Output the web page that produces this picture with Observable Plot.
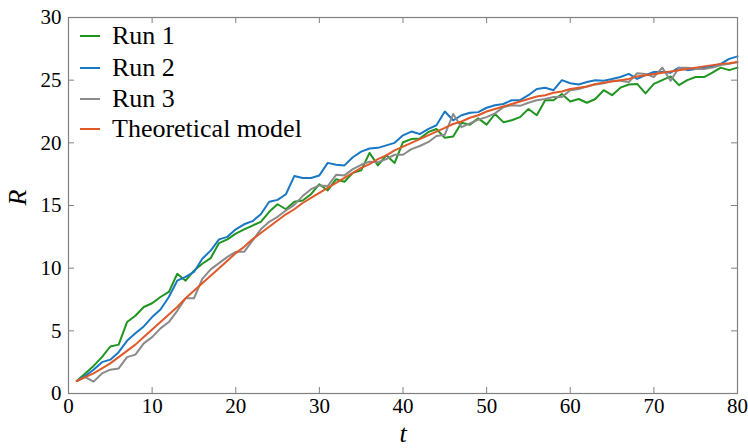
<!DOCTYPE html>
<html><head><meta charset="utf-8">
<script src="https://cdn.jsdelivr.net/npm/d3@7"></script>
<script src="https://cdn.jsdelivr.net/npm/@observablehq/plot@0.6"></script>
<style>
html,body{margin:0;padding:0;background:#fff;font-family:'Liberation Serif',Times,serif;}
#wrap{position:relative;width:748px;height:448px;font-family:'Liberation Serif',Times,serif;}
.legend{position:absolute;left:80px;top:0;font-size:26px;color:#000;font-family:'Liberation Serif',Times,serif;}
.row{position:absolute;left:0;height:30px;display:flex;align-items:center;white-space:nowrap;}
.sw{width:20px;height:0;border-top:2px solid;margin-right:12px;}
#wrap svg text{font-family:'Liberation Serif',Times,serif;}
</style></head><body>
<div id="wrap">
  <div class="legend" id="legend">
    <div class="row" style="top:21px"><span class="sw" style="border-top-color:#1f951f"></span><span>Run 1</span></div>
    <div class="row" style="top:53px"><span class="sw" style="border-top-color:#1a77c4"></span><span>Run 2</span></div>
    <div class="row" style="top:84px"><span class="sw" style="border-top-color:#8a8a8a"></span><span>Run 3</span></div>
    <div class="row" style="top:114px"><span class="sw" style="border-top-color:#e0592a"></span><span>Theoretical model</span></div>
  </div>
</div>
<script>
const seriesNames = ["Run 1", "Run 2", "Run 3", "Theoretical model"];
const seriesColors = ["#1f951f", "#1a77c4", "#8a8a8a", "#e0592a"];
const xTicks = [0, 10, 20, 30, 40, 50, 60, 70, 80];
const yTicks = [0, 5, 10, 15, 20, 25, 30];
const tValues = d3.range(1, 81);

const run1 = [1.0,1.6,2.2,2.9,3.75,3.9,5.7,6.2,6.9,7.2,
  7.7,8.1,9.55,9.0,9.8,10.35,10.8,12.0,12.3,12.75,
  13.1,13.4,13.7,14.5,15.1,14.7,15.3,15.4,15.9,16.7,
  16.2,17.1,16.9,17.6,17.8,19.2,18.2,19.0,18.4,20.05,
  20.3,20.35,20.85,21.1,20.4,20.5,21.6,21.45,21.95,21.45,
  22.3,21.65,21.8,22.05,22.7,22.2,23.4,23.4,23.9,23.3,
  23.5,23.2,23.5,24.2,23.8,24.4,24.65,24.7,23.95,24.7,
  25.0,25.3,24.6,25.0,25.25,25.25,25.6,26.0,25.8,26.0];
const run2 = [1.0,1.4,1.9,2.5,2.7,3.3,4.2,4.8,5.35,6.1,
  6.7,7.7,9.0,9.3,9.7,10.75,11.4,12.3,12.5,13.1,
  13.5,13.75,14.3,15.3,15.45,15.9,17.35,17.2,17.2,17.4,
  18.4,18.25,18.2,18.85,19.3,19.55,19.6,19.8,20.0,20.6,
  20.9,20.7,21.1,21.4,22.5,21.8,22.2,22.4,22.45,22.8,
  23.0,23.1,23.4,23.4,23.8,24.3,24.4,24.2,25.0,24.75,
  24.66,24.85,25.0,24.95,25.1,25.25,25.5,25.1,25.4,25.65,
  25.65,25.6,26.0,25.8,25.9,26.0,26.1,26.3,26.7,26.9];
const run3 = [1.0,1.3,0.95,1.6,1.9,2.0,2.9,3.1,4.0,4.5,
  5.2,5.7,6.6,7.6,7.6,9.15,9.9,10.4,10.9,11.3,
  11.3,12.2,13.1,13.7,14.1,14.6,15.05,15.75,16.3,16.6,
  16.55,17.45,17.4,17.9,18.25,18.5,18.45,18.7,19.05,19.05,
  19.5,19.75,20.05,20.55,20.65,22.3,21.25,21.55,21.85,22.05,
  22.35,22.85,23.0,22.95,23.2,23.4,23.5,23.65,23.65,24.2,
  24.3,24.5,24.65,24.75,24.95,24.95,24.85,25.55,25.5,25.25,
  26.0,24.95,26.0,26.0,25.9,25.9,26.0,26.2,26.3,26.45];
const model = [1.0,1.3,1.6,2.0,2.4,2.9,3.4,3.9,4.5,5.1,
  5.7,6.3,6.9,7.6,8.2,8.8,9.4,10.0,10.6,11.2,
  11.7,12.3,12.8,13.3,13.8,14.3,14.7,15.2,15.6,16.0,
  16.4,16.8,17.2,17.6,18.0,18.3,18.7,19.0,19.4,19.7,
  20.0,20.3,20.6,20.9,21.2,21.5,21.7,22.0,22.2,22.5,
  22.7,22.9,23.1,23.3,23.5,23.7,23.8,24.0,24.1,24.3,
  24.4,24.5,24.7,24.8,24.9,25.0,25.1,25.3,25.4,25.5,
  25.6,25.7,25.8,25.9,26.0,26.1,26.2,26.3,26.35,26.45];

const allSeries = [run1, run2, run3, model];
const data = allSeries.flatMap((vals, k) =>
  vals.map((v, i) => ({t: tValues[i], R: v, name: seriesNames[k]})));

const W = 748, H = 448, mL = 68, mR = 11, mT = 17, mB = 55;
const fw = W - mL - mR, fh = H - mT - mB, tk = 6;
const axisColor = "#808080";
const serif = "'Liberation Serif', Times, serif";

const chart = Plot.plot({
  width: W, height: H,
  marginLeft: mL, marginRight: mR, marginTop: mT, marginBottom: mB,
  style: {fontFamily: serif, background: "#fff", color: "#000"},
  x: {domain: [0, 80], label: null},
  y: {domain: [0, 30], label: null},
  color: {domain: seriesNames, range: seriesColors},
  marks: [
    Plot.ruleX(xTicks, {x: d => d, insetTop: fh - tk, stroke: axisColor}),
    Plot.ruleX(xTicks, {x: d => d, insetBottom: fh - tk, stroke: axisColor}),
    Plot.ruleY(yTicks, {y: d => d, insetRight: fw - tk, stroke: axisColor}),
    Plot.ruleY(yTicks, {y: d => d, insetLeft: fw - tk, stroke: axisColor}),
    Plot.axisX({ticks: xTicks, tickSize: 0, tickPadding: 5, fontSize: 21, fontFamily: serif, label: null}),
    Plot.axisY({ticks: yTicks, tickSize: 0, tickPadding: 7, fontSize: 21, fontFamily: serif, label: null}),
    Plot.lineY(data, {x: "t", y: "R", z: "name", stroke: "name", strokeWidth: 2}),
    Plot.frame({stroke: axisColor, strokeWidth: 1.2}),
    Plot.text(["t"], {frameAnchor: "bottom", dy: 48, fontSize: 26, fontStyle: "italic", fontFamily: serif}),
    Plot.text(["R"], {frameAnchor: "left", dx: -51, rotate: -90, fontSize: 26, fontStyle: "italic", fontFamily: serif})
  ]
});

const wrap = document.getElementById("wrap");
wrap.insertBefore(chart, document.getElementById("legend"));
</script></body></html>
